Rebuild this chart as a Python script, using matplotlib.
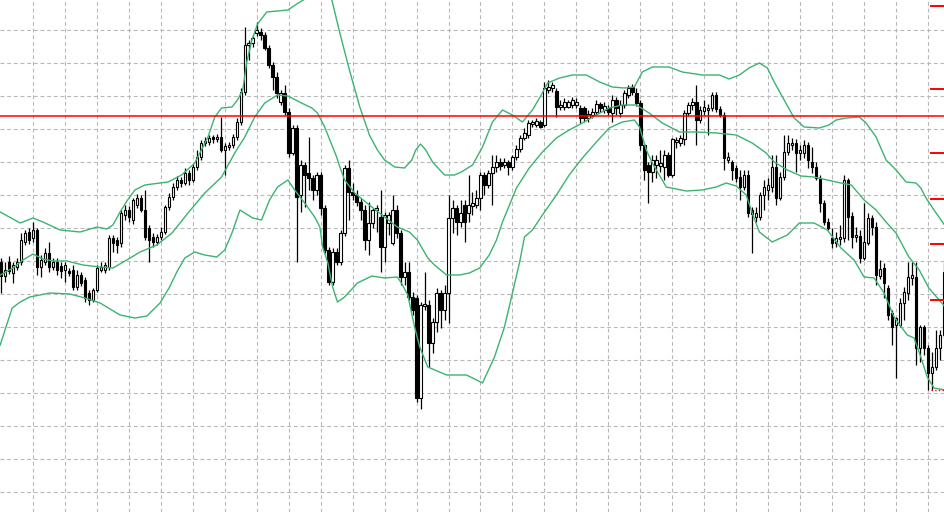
import matplotlib
matplotlib.use("Agg")
import matplotlib.pyplot as plt
import numpy as np

# OHLC per bar (price index units, higher = up)
opens = [238, 224, 238, 227, 233, 238, 258, 268, 262, 270, 233, 238, 247, 233, 238, 234, 230, 229, 230, 213,
         225, 220, 207, 200, 210, 230, 230, 233, 262, 260, 257, 285, 290, 280, 295, 302, 290, 272, 263, 258,
         263, 268, 293, 303, 313, 320, 317, 327, 320, 333, 343, 357, 358, 363, 361, 363, 350, 353, 355, 363,
         378, 408, 455, 457, 467, 468, 465, 452, 435, 423, 398, 407, 388, 347, 372, 305, 335, 327, 322, 310,
         325, 292, 250, 218, 248, 238, 267, 332, 308, 305, 298, 290, 260, 277, 290, 283, 253, 277, 257, 290,
         267, 223, 228, 203, 202, 102, 194, 195, 157, 178, 207, 190, 207, 282, 292, 278, 295, 287, 294, 295,
         302, 325, 315, 327, 333, 338, 335, 338, 333, 343, 351, 362, 365, 376, 375, 378, 375, 410, 412, 409,
         393, 393, 393, 395, 395, 392, 392, 382, 385, 388, 396, 390, 392, 387, 400, 387, 395, 405, 413, 407,
         397, 355, 335, 328, 335, 334, 333, 345, 325, 358, 357, 361, 387, 395, 398, 380, 389, 390, 392, 405,
         391, 385, 340, 338, 332, 323, 313, 325, 290, 283, 283, 305, 310, 313, 333, 302, 323, 348, 355, 357,
         347, 347, 355, 338, 333, 322, 297, 278, 262, 257, 261, 262, 320, 284, 263, 264, 242, 257, 282, 273,
         224, 232, 212, 187, 175, 175, 197, 207, 222, 223, 152, 173, 152, 127, 133, 152, 165]
highs = [242, 238, 244, 238, 242, 267, 270, 272, 278, 272, 245, 252, 258, 242, 242, 238, 238, 232, 235, 230,
         228, 223, 210, 212, 235, 238, 238, 265, 265, 263, 290, 295, 294, 302, 306, 305, 310, 275, 267, 266,
         273, 295, 307, 317, 324, 323, 332, 330, 336, 350, 360, 363, 365, 365, 366, 383, 357, 358, 366, 382,
         412, 473, 460, 465, 478, 472, 468, 455, 438, 428, 410, 415, 392, 375, 375, 340, 338, 363, 325, 328,
         328, 295, 253, 252, 252, 270, 335, 340, 317, 310, 302, 295, 298, 292, 295, 310, 288, 288, 305, 295,
         270, 238, 238, 208, 205, 198, 228, 200, 182, 212, 210, 215, 305, 300, 295, 300, 300, 325, 308, 310,
         328, 328, 330, 345, 345, 342, 342, 340, 345, 355, 365, 372, 380, 380, 382, 380, 418, 420, 418, 412,
         400, 402, 400, 403, 402, 395, 394, 390, 392, 400, 398, 398, 395, 405, 403, 400, 410, 415, 416, 412,
         400, 357, 338, 345, 345, 350, 350, 348, 362, 363, 365, 390, 398, 402, 415, 394, 400, 396, 408, 408,
         394, 388, 348, 340, 335, 330, 330, 330, 293, 293, 308, 320, 322, 345, 345, 328, 365, 365, 362, 361,
         355, 360, 358, 353, 338, 325, 300, 282, 272, 268, 275, 325, 322, 288, 273, 270, 297, 287, 285, 278,
         240, 237, 215, 190, 183, 202, 213, 238, 238, 238, 175, 175, 155, 148, 170, 170, 238]
lows = [207, 218, 226, 217, 230, 235, 255, 256, 258, 225, 223, 235, 228, 230, 225, 222, 218, 224, 210, 210,
        214, 198, 195, 198, 208, 228, 227, 230, 248, 247, 253, 280, 278, 276, 292, 288, 260, 238, 253, 255,
        260, 266, 290, 300, 310, 313, 315, 315, 318, 330, 340, 354, 355, 357, 358, 348, 325, 350, 352, 360,
        375, 405, 440, 453, 464, 460, 450, 432, 410, 402, 395, 385, 343, 345, 238, 288, 293, 310, 300, 305,
        285, 247, 215, 215, 235, 235, 264, 280, 300, 294, 280, 250, 245, 272, 268, 228, 238, 265, 255, 262,
        215, 215, 200, 185, 98, 91, 190, 133, 147, 168, 172, 180, 177, 267, 265, 273, 258, 278, 285, 292,
        290, 305, 312, 295, 328, 330, 332, 325, 330, 340, 348, 360, 362, 373, 373, 372, 373, 407, 408, 383,
        390, 390, 392, 392, 392, 377, 378, 378, 382, 385, 388, 387, 385, 378, 385, 383, 392, 402, 405, 394,
        350, 320, 297, 318, 322, 328, 320, 323, 323, 352, 354, 355, 384, 390, 355, 377, 385, 365, 389, 388,
        383, 330, 337, 320, 318, 300, 310, 283, 247, 278, 280, 290, 300, 308, 295, 300, 320, 345, 350, 328,
        340, 342, 332, 327, 320, 288, 275, 270, 252, 253, 255, 258, 260, 252, 258, 237, 240, 255, 265, 215,
        221, 202, 180, 155, 122, 173, 180, 200, 215, 135, 138, 145, 110, 110, 130, 140, 162]
closes = [224, 230, 229, 235, 238, 260, 267, 260, 270, 233, 240, 247, 233, 238, 230, 229, 235, 227, 213, 225,
          217, 202, 200, 210, 232, 233, 235, 262, 257, 255, 287, 290, 283, 300, 302, 290, 263, 260, 258, 263,
          268, 293, 303, 313, 320, 317, 327, 320, 333, 343, 357, 359, 362, 361, 363, 350, 354, 355, 363, 378,
          408, 455, 457, 462, 470, 465, 452, 435, 423, 407, 407, 388, 347, 372, 303, 335, 325, 322, 310, 325,
          292, 250, 218, 248, 238, 267, 332, 308, 305, 298, 290, 260, 277, 290, 292, 253, 285, 285, 290, 267,
          223, 228, 203, 190, 102, 195, 196, 157, 178, 207, 190, 207, 282, 292, 278, 287, 278, 295, 297, 302,
          325, 315, 327, 333, 338, 334, 338, 333, 343, 351, 362, 367, 377, 378, 379, 373, 412, 413, 415, 393,
          395, 398, 398, 400, 398, 382, 382, 386, 388, 396, 392, 394, 388, 400, 392, 395, 407, 412, 408, 397,
          355, 330, 328, 340, 340, 337, 345, 325, 361, 360, 362, 387, 395, 398, 380, 390, 393, 392, 405, 391,
          385, 342, 343, 330, 322, 313, 325, 287, 286, 287, 305, 313, 315, 333, 302, 323, 348, 357, 357, 347,
          350, 355, 340, 333, 322, 297, 278, 272, 257, 262, 263, 320, 283, 263, 265, 242, 258, 282, 273, 225,
          231, 217, 185, 173, 182, 197, 208, 223, 225, 152, 173, 152, 127, 133, 152, 165, 228]

# Bollinger band traces (bar index, level)
upper_idx = [-0.2, 4.8, 8, 10.5, 14.8, 19.8, 24, 26.5, 28, 29.8, 31.5, 33.5, 36, 39.8, 41.8, 45.2, 48.5, 51.8,
             53.5, 55.2, 57.8, 59.2, 60.5, 61.5, 62.8, 64.2, 66.5, 71.8, 74, 76.5, 79.8, 82.8, 84.8, 87.2, 89.8,
             92.2, 94.2, 96, 98.5, 101, 102.8, 103.8, 105, 106.3, 108, 111, 113.5, 115.2, 118, 120.5, 123,
             125.5, 128, 130.5, 133, 135.2, 136.8, 139.8, 143, 146.5, 149.8, 153, 156, 158.5, 160.5, 163,
             167.2, 170.5, 175.5, 179.8, 182.2, 184.8, 187.2, 189.8, 191.8, 193.5, 196, 198.5, 201, 204.8,
             207.2, 209, 211.5, 214.8, 216.5, 219, 221.5, 224, 226.5, 229, 230.2, 231.5, 233.5, 236.3]
upper_val = [288, 277, 282, 278, 270, 268, 273, 271, 275, 288, 299, 310, 315, 317, 318, 325, 337, 363,
             383, 392, 393, 400, 410, 438, 460, 476, 488, 490, 496, 502, 508, 500, 467, 430, 393,
             365, 350, 340, 333, 332, 340, 350, 356, 350, 338, 325, 325, 328, 335, 353, 378,
             390, 385, 378, 390, 405, 417, 422, 425, 425, 418, 413, 412, 413, 428, 433,
             433, 428, 425, 425, 421, 425, 432, 437, 432, 418, 400, 382, 373, 372,
             375, 380, 382, 383, 377, 363, 340, 330, 318, 317, 312, 302, 290, 274]
middle_idx = [-0.2, 3, 5.5, 8, 10.5, 13, 16.5, 20.5, 24.8, 28, 31.5, 34.8, 39, 42.8, 46.8, 51, 55.2, 58.5, 61,
              63.5, 66, 69.2, 71.8, 75.2, 77.8, 79.2, 81, 84, 84.8, 86, 88.5, 92.8, 96, 99.2, 102.2, 104.2,
              106.8, 108.5, 111.5, 114.8, 117.2, 119.8, 122.2, 124, 125.5, 129, 132.2, 135.5, 139, 142.2,
              145.5, 149, 152.2, 155.5, 159, 162.2, 165.5, 169.8, 174, 179, 184, 188, 191.5, 193.5, 196.8,
              200.2, 203.5, 206.8, 210.2, 212.8, 216, 219, 221.5, 224, 227.2, 229.8, 232.2, 236.3]
middle_val = [225, 232, 240, 246, 241, 239, 239, 235, 233, 232, 240, 248, 255, 267, 287, 307, 323, 347, 363,
              383, 397, 405, 404, 397, 392, 387, 373, 343, 333, 320, 307, 293, 283, 273, 268, 260,
              242, 235, 225, 225, 227, 232, 245, 260, 278, 312, 332, 348, 362, 370,
              377, 385, 392, 395, 395, 387, 377, 368, 368, 367, 365, 357, 347, 338, 330,
              324, 323, 320, 317, 315, 300, 290, 278, 267, 243, 230, 212, 193]
lower_idx = [-0.2, 1, 2.8, 4.8, 7.2, 12.2, 17.2, 21, 24.8, 29.8, 33.5, 36.5, 39.8, 42.2, 44, 46, 48.5, 51, 54,
             56, 57.8, 59.8, 61, 63, 65.2, 67.2, 69.2, 71.8, 73.5, 76, 78.5, 79.8, 80.5, 81.8, 83, 84.2, 86,
             89.2, 92.8, 96, 99.2, 100.2, 101.8, 103.5, 104.8, 106.8, 111.5, 116.5, 120.5, 123.5, 126, 128,
             129.8, 131, 133, 135.5, 139, 142.2, 145.5, 149, 152.2, 155.5, 158.5, 159.8, 161.5, 163, 166.5,
             171.5, 175.5, 179, 181.5, 184, 186.5, 188, 189.8, 193, 196.8, 199.8, 203.5, 206.8, 210.2,
             213.5, 216, 218.5, 221, 223.5, 226.8, 228.5, 230.2, 231.8, 233.5, 236.3]
lower_val = [155, 170, 192, 198, 203, 207, 206, 202, 197, 185, 182, 184, 197, 213, 228, 242, 248, 245, 243,
             250, 267, 290, 287, 282, 280, 300, 313, 320, 310, 297, 283, 273, 253, 237, 213, 198, 203,
             217, 224, 222, 223, 217, 205, 173, 153, 133, 125, 125, 117, 143, 173, 207,
             238, 263, 270, 285, 305, 325, 342, 358, 372, 378, 380, 373, 350, 337, 313,
             309, 310, 313, 317, 314, 305, 287, 268, 258, 265, 277, 277, 270, 252,
             240, 223, 222, 207, 183, 165, 162, 143, 123, 112, 110]

red_level = 384
edge_marks = [494, 411, 347, 301, 256, 200]
bid_mark = 110
grid_levels = [470, 437, 404, 371, 338, 305, 272, 239, 206, 173, 140, 107, 74, 41, 8]
grid_bars = list(range(8, 236, 8))

o = np.array(opens)
c = np.array(closes)
h = np.array(highs)
l = np.array(lows)
x = np.arange(len(c))

fig = plt.figure(figsize=(9.45, 5.12), dpi=100)
ax = fig.add_axes([0, 0, 1, 1])
ax.set_xlim(-0.25, 236.25)
ax.set_ylim(-12, 500)
ax.axis('off')

for g in grid_levels:
    ax.axhline(g, color='#b8b8b8', lw=0.8, dashes=(3.5, 2.5), zorder=0)
for g in grid_bars:
    ax.axvline(g, color='#b8b8b8', lw=0.8, dashes=(3.5, 2.5), zorder=0)

ax.vlines(x, l, h, color='black', lw=0.9, zorder=2)
up = c >= o
ax.bar(x[up], (c - o)[up], bottom=o[up], width=0.62, color='white', edgecolor='black', lw=0.8, zorder=3)
ax.bar(x[~up], (o - c)[~up], bottom=c[~up], width=0.62, color='black', edgecolor='black', lw=0.8, zorder=3)

for bi, bv in [(upper_idx, upper_val), (middle_idx, middle_val), (lower_idx, lower_val)]:
    ax.plot(bi, bv, color='#3cb371', lw=1.0, zorder=4)

ax.axhline(red_level, color='red', lw=1.1, zorder=5)
for m in edge_marks:
    ax.plot([232.8, 236.3], [m, m], color='red', lw=1.4, zorder=5)
ax.plot([232.8, 236.3], [bid_mark, bid_mark], color='red', lw=1.0, ls=':', zorder=5)

fig.savefig('out.png', dpi=100, facecolor='white')
